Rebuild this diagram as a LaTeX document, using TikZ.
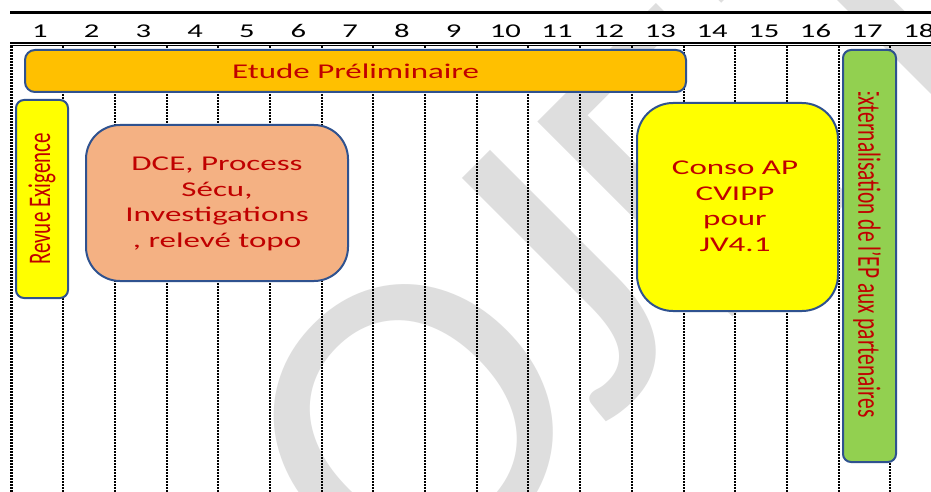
\documentclass[tikz,border=0pt]{standalone}
\usepackage{fontspec}
\setmainfont{Carlito}
\usepackage{graphicx}
\definecolor{boxline}{HTML}{2F528F}
\definecolor{txtred}{HTML}{C00000}
\definecolor{orangefill}{HTML}{FFC000}
\definecolor{yellowfill}{HTML}{FFFF00}
\definecolor{salmonfill}{HTML}{F4B183}
\definecolor{greenfill}{HTML}{92D050}
\definecolor{wmgray}{HTML}{DEDEDE}
\tikzset{
  wm/.style={rotate=45, text=wmgray, inner sep=0pt, font=\fontsize{430}{430}\selectfont},
  gridline/.style={line width=2pt, dash pattern=on 2pt off 1pt},
  num/.style={inner sep=0pt, font=\fontsize{19.5}{20}\selectfont},
  taskbox/.style={draw=boxline, line width=2pt, inner sep=0pt},
  tasktext/.style={text=txtred, inner sep=0pt, font=\fontsize{21}{25.7}\selectfont}
}
\begin{document}
\begin{tikzpicture}[x=1pt,y=-1pt]
\useasboundingbox (0,0) rectangle (931,492);
\fill[white] (0,0) rectangle (931,492);
% watermark
\begin{scope}
\clip (0,0) rectangle (931,492);
\foreach \L/\px/\py in {P/59/811, R/228/642, O/414/424, J/556/282, E/690/165, T/870/5}
  \node[wm] (wm\L) at (\px,\py) {\scalebox{1.04}[1]{\L}};
\end{scope}
% header
\fill[white] (10,13) rectangle (931,46);
\draw[line width=3pt] (10,13) -- (931,13);
\draw[line width=2pt] (10,42.8) -- (931,42.8);
\draw[line width=1pt] (10,46) -- (931,46);
\foreach \n in {1,...,18}
  \node[num] (h\n) at ({40+51.7*(\n-1)},31) {\scalebox{1.57}[1]{\n}};
% grid
\draw[gridline, line width=2.8pt] (11.4,46) -- (11.4,492);
\foreach \k in {1,...,17}
  \draw[gridline] ({11.4+51.7*\k},46) -- ({11.4+51.7*\k},492);
% boxes
\node[taskbox, fill=orangefill, rounded corners=10pt, minimum width=661, minimum height=42] (etude) at (355.5,71) {};
\node[tasktext] (etudetxt) at (etude.center) {\scalebox{1.57}[1]{Etude Préliminaire}};
\node[taskbox, fill=yellowfill, rounded corners=8pt, minimum width=52, minimum height=198] (revue) at (42,199) {};
\node[tasktext] (revuetxt) at (revue.center) {\scalebox{1.5}[1]{\rotatebox{90}{Revue Exigence}}};
\node[taskbox, fill=salmonfill, rounded corners=34pt, minimum width=262, minimum height=156] (dce) at (217,203) {};
\node[tasktext] (dcetxt) at (217,204) {\scalebox{1.57}[1]{\begin{tabular}{@{}c@{}}DCE, Process\\ Sécu,\\ Investigations\\ , relevé topo\end{tabular}}};
\node[taskbox, fill=yellowfill, rounded corners=36pt, minimum width=201, minimum height=208] (conso) at (737.5,207) {};
\node[tasktext] (consotxt) at (735,208) {\scalebox{1.57}[1]{\begin{tabular}{@{}c@{}}Conso AP\\ CVIPP\\ pour\\ JV4.1\end{tabular}}};
\node[taskbox, fill=greenfill, rounded corners=8pt, minimum width=53, minimum height=412] (ext) at (869.5,256) {};
\begin{scope}
\clip (843,93) rectangle (896,462);
\node[tasktext, font=\fontsize{21.4}{25}\selectfont] (exttxt) at (867,252) {\scalebox{1.5}[1]{\rotatebox{-90}{Externalisation de l'EP aux partenaires}}};
\end{scope}
\end{tikzpicture}
\end{document}
